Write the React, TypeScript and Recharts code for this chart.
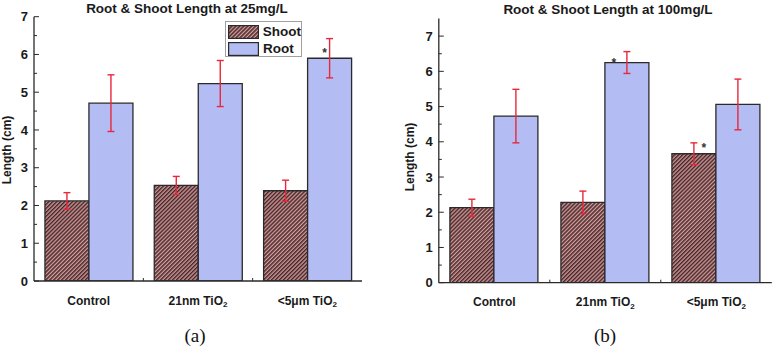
import { BarChart, Bar, XAxis, YAxis, ErrorBar, LabelList } from "recharts";

const categories = ["Control", "21nm TiO₂", "<5μm TiO₂"];

// 25 mg/L
const shoot25 = [2.12, 2.53, 2.39];
const shoot25Err = [0.22, 0.24, 0.28];
const root25 = [4.71, 5.23, 5.9];
const root25Err = [0.75, 0.61, 0.52];
const shoot25Star = ["", "", ""];
const root25Star = ["", "", "*"];

// 100 mg/L
const shoot100 = [2.13, 2.28, 3.66];
const shoot100Err = [0.24, 0.32, 0.31];
const root100 = [4.73, 6.25, 5.06];
const root100Err = [0.76, 0.31, 0.72];
const shoot100Star = ["", "", "*"];
const root100Star = ["", "*", ""];

const yTicks = [0, 0.5, 1, 1.5, 2, 2.5, 3, 3.5, 4, 4.5, 5, 5.5, 6, 6.5, 7];

const FONT = "'Liberation Sans', Arial, Helvetica, sans-serif";
const INK = "#2a2a2a";
const ROOT_FILL = "#b4bcf4";
const ERR_RED = "#e8283a";

function buildRows(
  shoot: number[],
  shootErr: number[],
  root: number[],
  rootErr: number[],
  shootStar: string[],
  rootStar: string[]
) {
  return categories.map((name, i) => ({
    name,
    shoot: shoot[i],
    shootErr: shootErr[i],
    root: root[i],
    rootErr: rootErr[i],
    shootStar: shootStar[i],
    rootStar: rootStar[i],
  }));
}

function YTick(props: any) {
  const { x, y, payload } = props;
  const v = payload.value as number;
  const major = Number.isInteger(v);
  return (
    <g>
      <line x1={x} x2={x + (major ? 5 : 3)} y1={y} y2={y} stroke={INK} strokeWidth={1} />
      {major && (
        <text
          x={x - 6}
          y={y}
          dy="0.36em"
          textAnchor="end"
          fontSize={13}
          fontWeight={700}
          fontFamily={FONT}
          fill="#1a1a1a"
        >
          {v}
        </text>
      )}
    </g>
  );
}

function XTick(props: any) {
  const { x, y, payload, index, band } = props;
  const label = String(payload.value);
  const sub = label.endsWith("₂");
  const base = sub ? label.slice(0, -1) : label;
  return (
    <g>
      {index > 0 && (
        <line x1={x - band / 2} x2={x - band / 2} y1={y} y2={y - 3} stroke={INK} strokeWidth={1} />
      )}
      <text
        x={x}
        y={y + 23.5}
        textAnchor="middle"
        fontSize={12}
        fontWeight={700}
        fontFamily={FONT}
        fill="#1a1a1a"
      >
        {base}
        {sub && (
          <tspan fontSize={8} dy={2.5}>
            2
          </tspan>
        )}
      </text>
    </g>
  );
}

function starLabel(dx: number, dy: number) {
  return (p: any) => {
    if (!p.value) return null;
    return (
      <text
        x={p.x + p.width / 2 + dx}
        y={p.y + dy}
        textAnchor="middle"
        fontSize={12}
        fontWeight={700}
        fontFamily={FONT}
        fill="#333"
      >
        {p.value}
      </text>
    );
  };
}

interface PanelProps {
  rows: ReturnType<typeof buildRows>;
  width: number;
  height: number;
  axisWidth: number;
  margin: { top: number; right: number; bottom: number; left: number };
  yMax: number;
  hatchId: string;
  shootStarOffset: [number, number];
  rootStarOffset: [number, number];
}

function Panel({
  rows,
  width,
  height,
  axisWidth,
  margin,
  yMax,
  hatchId,
  shootStarOffset,
  rootStarOffset,
}: PanelProps) {
  const band = (width - axisWidth - margin.left - margin.right) / categories.length;
  return (
    <BarChart
      width={width}
      height={height}
      data={rows}
      margin={margin}
      barGap={0}
      barCategoryGap="10%"
    >
      <defs>
        <pattern
          id={hatchId}
          width={2.8}
          height={2.8}
          patternUnits="userSpaceOnUse"
          patternTransform="rotate(45)"
        >
          <rect width={2.8} height={2.8} fill="#d79d9d" />
          <rect width={1.5} height={2.8} fill="#45282a" />
        </pattern>
      </defs>
      <XAxis
        dataKey="name"
        height={30}
        interval={0}
        tickSize={0}
        tickMargin={0}
        tickLine={false}
        axisLine={{ stroke: INK, strokeWidth: 1.3 }}
        tick={(p: any) => <XTick {...p} band={band} />}
      />
      <XAxis
        xAxisId="frameTop"
        orientation="top"
        dataKey="name"
        height={0}
        tick={false}
        tickLine={false}
        axisLine={{ stroke: INK, strokeWidth: 1.3 }}
      />
      <YAxis
        type="number"
        width={axisWidth}
        domain={[0, yMax]}
        ticks={yTicks}
        interval={0}
        tickSize={0}
        tickMargin={0}
        tickLine={false}
        allowDataOverflow
        axisLine={{ stroke: INK, strokeWidth: 1.3 }}
        tick={YTick}
      />
      <YAxis
        yAxisId="frameRight"
        orientation="right"
        type="number"
        width={0}
        domain={[0, yMax]}
        tick={false}
        tickLine={false}
        axisLine={{ stroke: INK, strokeWidth: 1.3 }}
      />
      <Bar
        dataKey="shoot"
        fill={`url(#${hatchId})`}
        stroke={INK}
        strokeWidth={1.3}
        isAnimationActive={false}
      >
        <ErrorBar dataKey="shootErr" width={3.5} stroke={ERR_RED} strokeWidth={1.4} direction="y" />
        <LabelList dataKey="shootStar" content={starLabel(shootStarOffset[0], shootStarOffset[1])} />
      </Bar>
      <Bar
        dataKey="root"
        fill={ROOT_FILL}
        stroke={INK}
        strokeWidth={1.3}
        isAnimationActive={false}
      >
        <ErrorBar dataKey="rootErr" width={3.5} stroke={ERR_RED} strokeWidth={1.4} direction="y" />
        <LabelList dataKey="rootStar" content={starLabel(rootStarOffset[0], rootStarOffset[1])} />
      </Bar>
    </BarChart>
  );
}

function LegendBox({ hatchId }: { hatchId: string }) {
  const row = { display: "flex", alignItems: "center", height: 17 } as const;
  const txt = { fontFamily: FONT, fontWeight: 700, fontSize: 13.5, color: "#1a1a1a", marginLeft: 4 };
  return (
    <div
      style={{
        position: "absolute",
        left: 225,
        top: 21,
        width: 77,
        height: 36,
        border: "1px solid #a0a0a0",
        background: "#fff",
        boxSizing: "border-box",
        padding: "1px 0 0 2px",
      }}
    >
      <div style={row}>
        <svg width={31} height={14}>
          <rect x={0.6} y={0.6} width={29.8} height={12.8} fill={`url(#${hatchId})`} stroke={INK} strokeWidth={1.2} />
        </svg>
        <span style={txt}>Shoot</span>
      </div>
      <div style={row}>
        <svg width={31} height={14}>
          <rect x={0.6} y={0.6} width={29.8} height={12.8} fill={ROOT_FILL} stroke={INK} strokeWidth={1.2} />
        </svg>
        <span style={txt}>Root</span>
      </div>
    </div>
  );
}

export default function App() {
  const rows25 = buildRows(shoot25, shoot25Err, root25, root25Err, shoot25Star, root25Star);
  const rows100 = buildRows(shoot100, shoot100Err, root100, root100Err, shoot100Star, root100Star);

  return (
    <div
      style={{
        position: "absolute",
        left: 0,
        top: 0,
        width: 775,
        height: 348,
        background: "#fff",
        overflow: "hidden",
      }}
    >
      <div style={{ position: "absolute", left: 0, top: 0 }}>
        <Panel
          rows={rows25}
          width={385}
          height={320}
          axisWidth={34}
          margin={{ top: 16.7, right: 23, bottom: 9, left: 0 }}
          yMax={7}
          hatchId="hatch25"
          shootStarOffset={[0, -2]}
          rootStarOffset={[-5, -1.5]}
        />
      </div>
      <div style={{ position: "absolute", left: 385, top: 0 }}>
        <Panel
          rows={rows100}
          width={390}
          height={320}
          axisWidth={53.8}
          margin={{ top: 18.5, right: 3.2, bottom: 7.3, left: 0 }}
          yMax={7.5}
          hatchId="hatch100"
          shootStarOffset={[10, -1.5]}
          rootStarOffset={[-13, 4.5]}
        />
      </div>
      <LegendBox hatchId="hatch25" />
      <svg
        width={775}
        height={348}
        style={{ position: "absolute", left: 0, top: 0, pointerEvents: "none" }}
      >
        <g fontFamily={FONT} fontWeight={700} fill="#1a1a1a">
          <text x={187} y={12.5} fontSize={13.5} textAnchor="middle">
            Root &amp; Shoot Length at 25mg/L
          </text>
          <text x={608} y={13.5} fontSize={13.5} textAnchor="middle">
            Root &amp; Shoot Length at 100mg/L
          </text>
          <text x={11} y={150} fontSize={12} textAnchor="middle" transform="rotate(-90 11 150)">
            Length (cm)
          </text>
          <text x={414} y={157} fontSize={12} textAnchor="middle" transform="rotate(-90 414 157)">
            Length (cm)
          </text>
        </g>
        <g fontFamily="'Liberation Serif', 'Times New Roman', serif" fontSize={19} fill="#111">
          <text x={195} y={342} textAnchor="middle">
            (a)
          </text>
          <text x={605} y={342} textAnchor="middle">
            (b)
          </text>
        </g>
      </svg>
    </div>
  );
}
